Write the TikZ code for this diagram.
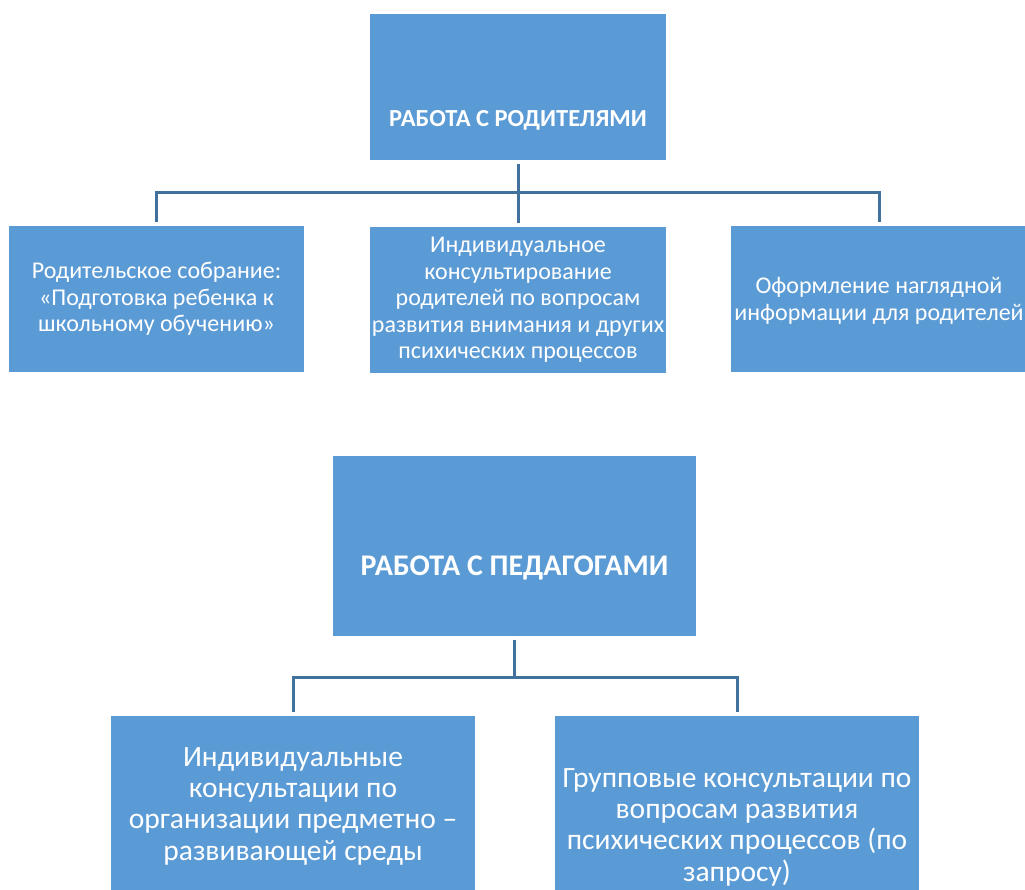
\documentclass[tikz,border=0pt]{standalone}
\usepackage{fontspec}
\setmainfont{Carlito}
\definecolor{boxblue}{HTML}{5B9BD5}
\definecolor{lineblue}{HTML}{41719C}
\begin{document}
\begin{tikzpicture}[x=1pt,y=-1pt,
  box/.style={fill=boxblue,draw=none,inner sep=0pt,text=white,align=center},
  lbl/.style={inner sep=0pt,text=white,align=center},
  conn/.style={draw=lineblue,line width=3pt,shorten >=3.5pt,shorten <=3.5pt},
  small/.style={font=\fontsize{24}{26.5}\selectfont},
  big/.style={font=\fontsize{29.5}{31.3}\selectfont}]
\useasboundingbox (0,0) rectangle (1025,890);
% top group
\node[box,minimum width=296pt,minimum height=146pt] (t1) at (518,87) {};
\node[lbl,font=\bfseries\fontsize{24.5}{28}\selectfont] (t1l) at (518,120) {РАБОТА С РОДИТЕЛЯМИ};
\node[box,minimum width=295pt,minimum height=146pt,small] (c1) at (156.5,299) {Родительское собрание:\\«Подготовка ребенка к\\школьному обучению»};
\node[box,minimum width=296pt,minimum height=146pt,small] (c2) at (518,300) {Индивидуальное\\консультирование\\родителей по вопросам\\развития внимания и других\\психических процессов};
\node[box,minimum width=296pt,minimum height=146pt] (c3) at (879,299) {};
\node[lbl,small] (c3l) at (879,301) {Оформление наглядной\\информации для родителей};
\coordinate (bar1) at (0,193);
\draw[conn,shorten >=0pt] (t1.south) -- (t1.south |- bar1);
\draw[conn] (c1.north) -- (c1.north |- bar1) -- (c3.north |- bar1) -- (c3.north);
\draw[conn,shorten >=0pt] (c2.north) -- (c2.north |- bar1);
% bottom group
\node[box,minimum width=363pt,minimum height=180pt] (t2) at (514.5,546) {};
\node[lbl,font=\bfseries\fontsize{30}{34}\selectfont] (t2l) at (514.5,568) {РАБОТА С ПЕДАГОГАМИ};
\node[box,minimum width=364pt,minimum height=180pt,big] (d1) at (293,806) {Индивидуальные\\консультации по\\организации предметно –\\развивающей среды};
\node[box,minimum width=364pt,minimum height=180pt] (d2) at (737,806) {};
\node[lbl,big] (d2l) at (737,827) {Групповые консультации по\\вопросам развития\\психических процессов (по\\запросу)};
\coordinate (bar2) at (0,677);
\draw[conn,shorten >=0pt] (t2.south) -- (t2.south |- bar2);
\draw[conn] (d1.north) -- (d1.north |- bar2) -- (d2.north |- bar2) -- (d2.north);
\end{tikzpicture}
\end{document}
